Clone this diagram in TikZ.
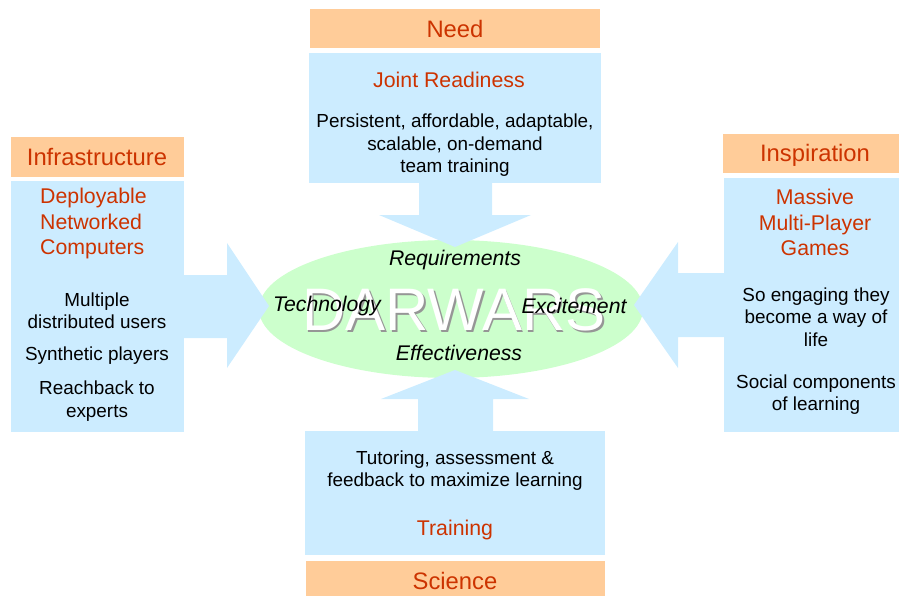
\documentclass[tikz,border=0pt]{standalone}
\usepackage{fontspec}
\setmainfont{Liberation Sans}
\usetikzlibrary{shapes.geometric}
\definecolor{orfill}{RGB}{255,204,153}
\definecolor{blfill}{RGB}{204,236,255}
\definecolor{grfill}{RGB}{204,255,204}
\definecolor{redtxt}{RGB}{204,51,0}
\definecolor{shadowgray}{RGB}{150,150,150}
\begin{document}
\begin{tikzpicture}[x=1pt,y=-1pt,
  hdr/.style={font=\fontsize{23.8}{28}\selectfont, text=redtxt, inner sep=0pt},
  sub/.style={font=\fontsize{21.3}{25.5}\selectfont, text=redtxt, align=center, inner sep=0pt},
  body/.style={font=\fontsize{18.9}{22.5}\selectfont, align=center, inner sep=0pt},
  key/.style={font=\fontsize{21.2}{24}\selectfont\itshape, inner sep=0pt},
  obox/.style={fill=orfill},
  bbox/.style={fill=blfill}]
\useasboundingbox (0,0) rectangle (899,596);

% centre ellipse
\node[ellipse, fill=grfill, minimum width=384pt, minimum height=138pt, inner sep=0pt] (core) at (451,309) {};

% boxes
\fill[obox] (310,9) rectangle (600,48);
\fill[bbox] (309,53) rectangle (601,183);
\fill[obox] (11,137) rectangle (184,177);
\fill[bbox] (11,181) rectangle (184,432);
\fill[obox] (723,134) rectangle (899,173);
\fill[bbox] (724,178) rectangle (899,432);
\fill[bbox] (305,431) rectangle (605,555);
\fill[obox] (306,561) rectangle (605,596);

% arrows
\fill[bbox] (419,182) -- (492,182) -- (492,215) -- (531,215) -- (455,247) -- (379,215) -- (419,215) -- cycle;
\fill[bbox] (418,432) -- (493,432) -- (493,399) -- (529,399) -- (455,370) -- (381,399) -- (418,399) -- cycle;
\fill[bbox] (183,275) -- (227,275) -- (227,243) -- (269,306) -- (227,368) -- (227,338) -- (183,338) -- cycle;
\fill[bbox] (725,273) -- (678,273) -- (678,242) -- (634,305) -- (678,368) -- (678,337) -- (725,337) -- cycle;

% DARWARS
\node[font=\fontsize{60}{60}\selectfont, text=shadowgray, inner sep=0pt] (dshadow) at (455.5,311.5) {DARWARS};
\node[font=\fontsize{60}{60}\selectfont, text=white, inner sep=0pt] (darwars) at (454,310) {DARWARS};

% centre keywords
\node[key] (req) at (455,260) {Requirements};
\node[key] (tech) at (327,306) {Technology};
\node[key] (exc) at (574,306) {Excitement};
\node[key] (eff) at (459,353) {Effectiveness};

% top
\node[hdr] (need) at (455,29) {Need};
\node[sub] (joint) at (449,80) {Joint Readiness};
\node[body] (topbody) at (455,145.5) {Persistent, affordable, adaptable,\\scalable, on-demand\\team training};

% left
\node[hdr] (infra) at (97,157) {Infrastructure};
\node[sub, align=left, anchor=west] (deploy) at (40,223.5) {Deployable\\Networked\\Computers};
\node[body] (multi) at (97,310.5) {Multiple\\distributed users};
\node[body] (synth) at (97,356) {Synthetic players};
\node[body] (reach) at (97,401) {Reachback to\\experts};

% right
\node[hdr] (insp) at (815,155) {Inspiration};
\node[sub] (mmpg) at (815,222.5) {Massive\\Multi-Player\\Games};
\node[body] (engage) at (816,317) {So engaging they\\become a way of\\life};
\node[body] (social) at (816,394.5) {Social components\\of learning};

% bottom
\node[body] (tutor) at (455,470.5) {Tutoring, assessment \&\\feedback to maximize learning};
\node[sub] (train) at (455,530) {Training};
\node[hdr] (sci) at (455,581) {Science};
\end{tikzpicture}
\end{document}
